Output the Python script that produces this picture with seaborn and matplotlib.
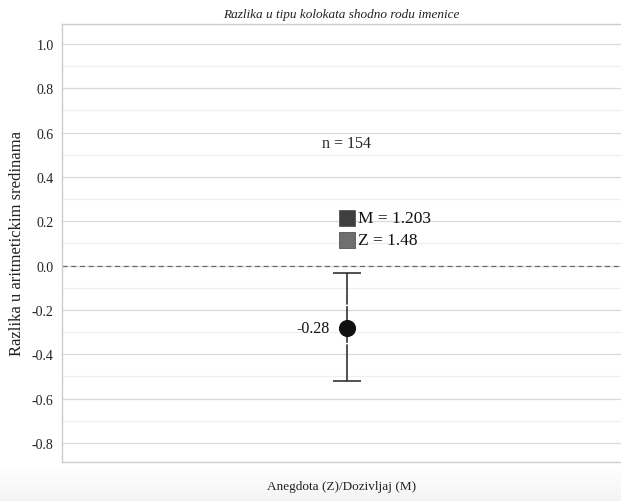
import matplotlib
matplotlib.use("Agg")
import matplotlib.pyplot as plt
import seaborn as sns
import pandas as pd
import numpy as np
from matplotlib.ticker import MultipleLocator

# ---- data ----
categories = ["Anegdota (Z)/Dozivljaj (M)"]
mean_diff = [-0.28]
ci_low = [-0.52]
ci_high = [-0.035]
group_labels = ["M = 1.203", "Z = 1.48"]
group_colors = ["#3f3f3f", "#6f6f6f"]
n_text = "n = 154"
title = "Razlika u tipu kolokata shodno rodu imenice"
ylabel = "Razlika u aritmetickim sredinama"
yticks = [-0.8, -0.6, -0.4, -0.2, 0.0, 0.2, 0.4, 0.6, 0.8, 1.0]

df = pd.DataFrame({"x": [0], "diff": mean_diff})

sns.set_theme(style="white")
plt.rcParams["font.family"] = ["Liberation Serif", "DejaVu Serif"]

fig = plt.figure(figsize=(6.21, 5.02), dpi=100)

# very faint grey band at the bottom of the image
bg = fig.add_axes([0, 0, 1, 34 / 502], zorder=-10)
shade = np.linspace(1.0, 0.955, 40)
img = np.repeat(shade[::-1].reshape(-1, 1, 1), 3, axis=2)
img = img[::-1]
bg.imshow(img, aspect="auto", extent=[0, 1, 0, 1], origin="upper")
bg.set_axis_off()

ax = fig.add_axes([62 / 621, 1 - 463 / 502, (621 - 62) / 621, (463 - 25) / 502])

ax.set_ylim(-0.886, 1.09)
ax.set_xlim(-0.509, 0.491)

ax.yaxis.set_major_locator(MultipleLocator(0.2))
ax.yaxis.set_minor_locator(MultipleLocator(0.1))
ax.grid(which="major", axis="y", color="#d9d9d9", linewidth=0.9)
ax.grid(which="minor", axis="y", color="#efefef", linewidth=0.9)
ax.set_axisbelow(True)

ax.axhline(0, color="#6a6a6a", linestyle=(0, (4, 3)), linewidth=0.9, zorder=2)

# error bar
err_lo = [m - l for m, l in zip(mean_diff, ci_low)]
err_hi = [h - m for m, h in zip(mean_diff, ci_high)]
eb = ax.errorbar(df["x"], df["diff"], yerr=[err_lo, err_hi], fmt="none",
                 ecolor="#222222", elinewidth=1.1, capsize=10, capthick=1.1, zorder=3)
eb[2][0].set_linestyle((0, (24, 1.0)))

sns.scatterplot(data=df, x="x", y="diff", ax=ax, s=130, color="#111111",
                edgecolor="#111111", zorder=4, legend=False)

for xi, m in zip(df["x"], mean_diff):
    ax.text(xi - 0.03, m, f"{m:.2f}", ha="right", va="center", fontsize=11.5, color="#111111")

ax.text(0.0, 0.555, n_text, ha="center", va="center", fontsize=11.5, color="#222222")

# group labels with squares
ys = [0.215, 0.115]
for lab, col, yy in zip(group_labels, group_colors, ys):
    ax.plot([-0.0], [yy], marker="s", markersize=11.5, color=col,
            markeredgecolor="#555555", markeredgewidth=0.6, linestyle="none", zorder=4)
    ax.text(0.02, yy, lab, ha="left", va="center", fontsize=12.5, color="#111111")

ax.set_yticks(yticks)
ax.set_yticklabels([f"{t:.1f}" for t in yticks], fontsize=10, color="#222222")
ax.tick_params(axis="y", which="both", length=0, pad=6)
ax.set_xticks([])
ax.set_xlabel(categories[0], fontsize=9.5, color="#222222", labelpad=13)
ax.set_ylabel(ylabel, fontsize=12, color="#222222", labelpad=5)
ax.set_title(title, fontsize=9.5, style="italic", color="#222222", pad=5)

for s in ["left", "top", "bottom"]:
    ax.spines[s].set_visible(True)
    ax.spines[s].set_color("#cccccc")
    ax.spines[s].set_linewidth(1.0)
ax.spines["right"].set_visible(False)

fig.savefig("out.png", dpi=100, facecolor="white")
